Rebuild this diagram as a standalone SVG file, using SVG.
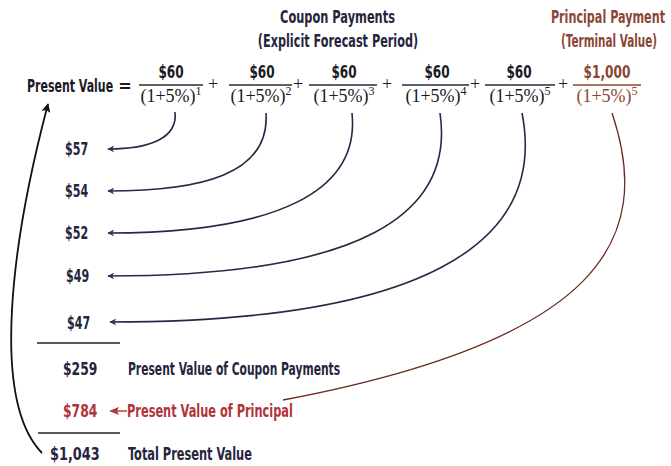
<svg xmlns="http://www.w3.org/2000/svg" width="671" height="466" viewBox="0 0 671 466">
<defs>
<style>
.t{font-family:"Liberation Sans Narrow","DejaVu Sans Condensed","Liberation Sans",sans-serif;font-size:17px;font-weight:bold;fill:#25253d}
.eq{font-family:"Liberation Sans Narrow","DejaVu Sans Condensed","Liberation Sans",sans-serif;font-size:18px;font-weight:bold;fill:#1a1a24}
.den{font-family:"Liberation Serif","Times New Roman",serif;font-size:18px;fill:#1a1a24}
.sup{font-size:12px}
.brown{fill:#8a4636}
.red{fill:#b0343a}
.fl{stroke:#2a2a35;stroke-width:1.3}
.flb{stroke:#8a4636;stroke-width:1.3}
.c{fill:none;stroke:#2b2645;stroke-width:1.6}
.cp{fill:none;stroke:#6e2a24;stroke-width:1.3}
.k{fill:none;stroke:#111;stroke-width:1.8}
.rule{stroke:#222;stroke-width:1.4}
</style>
<marker id="ah" viewBox="0 0 10 10" refX="9" refY="5" markerWidth="7" markerHeight="7" markerUnits="userSpaceOnUse" orient="auto">
<path d="M0,0 L10,5 L0,10 L3,5 z" fill="#3b2b63"/>
</marker>
<marker id="ak" viewBox="0 0 10 10" refX="9" refY="5" markerWidth="9" markerHeight="9" markerUnits="userSpaceOnUse" orient="auto">
<path d="M0,0 L10,5 L0,10 L2,5 z" fill="#111"/>
</marker>
</defs>
<rect width="671" height="466" fill="#fff"/>

<g id="title-coupon">
<text class="t" transform="translate(337.5,23) scale(0.7,1)" text-anchor="middle" textLength="164" lengthAdjust="spacingAndGlyphs">Coupon Payments</text>
<text class="t" transform="translate(338,47) scale(0.7,1)" text-anchor="middle" textLength="229" lengthAdjust="spacingAndGlyphs">(Explicit Forecast Period)</text>
</g>
<g id="title-principal">
<text class="t brown" transform="translate(665,23) scale(0.7,1)" text-anchor="end" textLength="163" lengthAdjust="spacingAndGlyphs">Principal Payment</text>
<text class="t brown" transform="translate(657,47) scale(0.7,1)" text-anchor="end" textLength="137" lengthAdjust="spacingAndGlyphs">(Terminal Value)</text>
</g>

<g id="equation">
<text class="eq" transform="translate(27,92) scale(0.7,1)" textLength="123" lengthAdjust="spacingAndGlyphs">Present Value</text>
<text class="eq" x="125" y="92" text-anchor="middle">=</text>
</g>

<g id="term1">
<text class="eq" transform="translate(171,78) scale(0.7,1)" text-anchor="middle" textLength="36" lengthAdjust="spacingAndGlyphs">$60</text>
<line class="fl" x1="139" y1="85" x2="203" y2="85"/>
<text class="den" x="171" y="102" text-anchor="middle">(1+5%)<tspan class="sup" dy="-7">1</tspan></text>
</g>
<text class="den" x="213" y="90" text-anchor="middle" font-size="20">+</text>
<g id="term2">
<text class="eq" transform="translate(262,78) scale(0.7,1)" text-anchor="middle" textLength="36" lengthAdjust="spacingAndGlyphs">$60</text>
<line class="fl" x1="229" y1="85" x2="292" y2="85"/>
<text class="den" x="261" y="102" text-anchor="middle">(1+5%)<tspan class="sup" dy="-7">2</tspan></text>
</g>
<text class="den" x="298" y="90" text-anchor="middle" font-size="20">+</text>
<g id="term3">
<text class="eq" transform="translate(344,78) scale(0.7,1)" text-anchor="middle" textLength="36" lengthAdjust="spacingAndGlyphs">$60</text>
<line class="fl" x1="309" y1="85" x2="377" y2="85"/>
<text class="den" x="344" y="102" text-anchor="middle">(1+5%)<tspan class="sup" dy="-7">3</tspan></text>
</g>
<text class="den" x="387" y="90" text-anchor="middle" font-size="20">+</text>
<g id="term4">
<text class="eq" transform="translate(437,78) scale(0.7,1)" text-anchor="middle" textLength="36" lengthAdjust="spacingAndGlyphs">$60</text>
<line class="fl" x1="402" y1="85" x2="469" y2="85"/>
<text class="den" x="436" y="102" text-anchor="middle">(1+5%)<tspan class="sup" dy="-7">4</tspan></text>
</g>
<text class="den" x="475" y="90" text-anchor="middle" font-size="20">+</text>
<g id="term5">
<text class="eq" transform="translate(519,78) scale(0.7,1)" text-anchor="middle" textLength="36" lengthAdjust="spacingAndGlyphs">$60</text>
<line class="fl" x1="485" y1="85" x2="555" y2="85"/>
<text class="den" x="520" y="102" text-anchor="middle">(1+5%)<tspan class="sup" dy="-7">5</tspan></text>
</g>
<text class="den" x="563" y="90" text-anchor="middle" font-size="20">+</text>
<g id="term6">
<text class="eq brown" transform="translate(607,78) scale(0.7,1)" text-anchor="middle" textLength="67" lengthAdjust="spacingAndGlyphs">$1,000</text>
<line class="flb" x1="573" y1="85" x2="641" y2="85"/>
<text class="den brown" x="607" y="102" text-anchor="middle">(1+5%)<tspan class="sup" dy="-7">5</tspan></text>
</g>

<g id="pv1"><text class="t" transform="translate(65,155) scale(0.7,1)" textLength="33" lengthAdjust="spacingAndGlyphs">$57</text></g>
<g id="pv2"><text class="t" transform="translate(65,197) scale(0.7,1)" textLength="33" lengthAdjust="spacingAndGlyphs">$54</text></g>
<g id="pv3"><text class="t" transform="translate(65,239) scale(0.7,1)" textLength="33" lengthAdjust="spacingAndGlyphs">$52</text></g>
<g id="pv4"><text class="t" transform="translate(66,282) scale(0.7,1)" textLength="33" lengthAdjust="spacingAndGlyphs">$49</text></g>
<g id="pv5"><text class="t" transform="translate(67,329) scale(0.7,1)" textLength="33" lengthAdjust="spacingAndGlyphs">$47</text></g>

<g id="sum-coupons">
<line class="rule" x1="37" y1="343" x2="120" y2="343"/>
<text class="t" transform="translate(63,375) scale(0.7,1)" textLength="49" lengthAdjust="spacingAndGlyphs">$259</text>
<text class="t" transform="translate(128,375) scale(0.7,1)" textLength="303" lengthAdjust="spacingAndGlyphs">Present Value of Coupon Payments</text>
</g>
<g id="pv-principal">
<text class="t red" transform="translate(63,417) scale(0.7,1)" textLength="49" lengthAdjust="spacingAndGlyphs">$784</text>
<text class="t red" transform="translate(127,417) scale(0.7,1)" textLength="237" lengthAdjust="spacingAndGlyphs">Present Value of Principal</text>
</g>
<g id="total">
<line class="rule" x1="38" y1="433" x2="120" y2="433"/>
<text class="t" transform="translate(50,460) scale(0.7,1)" textLength="71" lengthAdjust="spacingAndGlyphs">$1,043</text>
<text class="t" transform="translate(128,460) scale(0.7,1)" textLength="177" lengthAdjust="spacingAndGlyphs">Total Present Value</text>
</g>

<g id="connectors">
<path class="c" d="M175 112 C178 138,150 149,108 149" marker-end="url(#ah)"/>
<path class="c" d="M266 113 C270 175,200 191,108 191" marker-end="url(#ah)"/>
<path class="c" d="M352 113 C360 190,280 233,108 233" marker-end="url(#ah)"/>
<path class="c" d="M440 113 C455 215,360 276,108 276" marker-end="url(#ah)"/>
<path class="c" d="M522 113 C548 245,420 322,110 322" marker-end="url(#ah)"/>
<path class="cp" d="M612 113 C655 240,600 340,283 400"/>
<path d="M127 411 L116 411" stroke="#b0343a" stroke-width="1.4"/>
<path d="M109 411 L119 407 L117 411 L119 415 z" fill="#b0343a"/>
<path class="k" d="M42 453 C-10 400,12 240,48 104" marker-end="url(#ak)"/>
</g>
</svg>
